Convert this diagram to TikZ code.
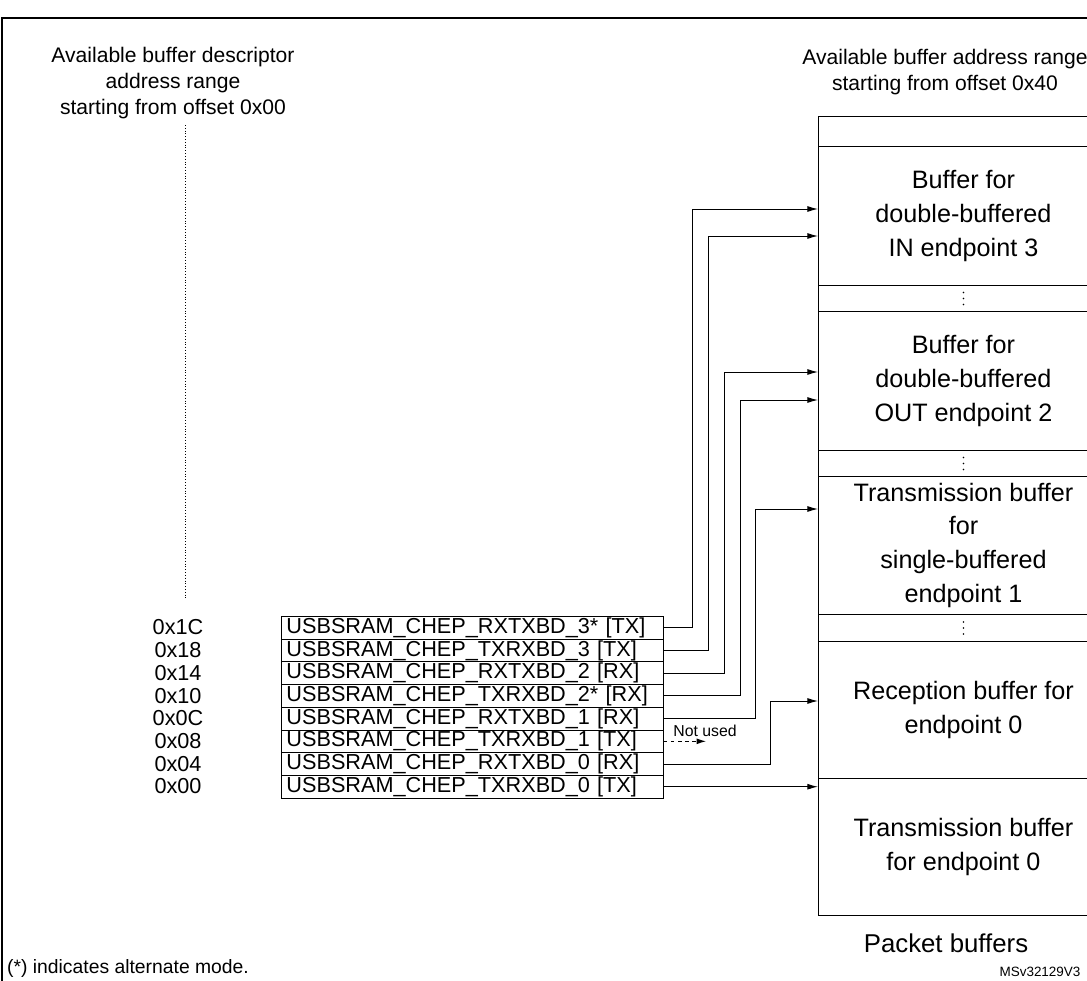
\documentclass[tikz,border=0pt]{standalone}
\usepackage{fontspec}
\setmainfont{Liberation Sans}
\usetikzlibrary{arrows.meta}
\begin{document}
\begin{tikzpicture}[x=0.03cm,y=-0.03cm,
  reg/.style={draw,thick,minimum width=382*0.03cm,minimum height=22.7*0.03cm,inner sep=0pt,font=\fontsize{18.5}{19}\selectfont,anchor=north west,align=left,text width=372*0.03cm},
  buf/.style={draw,thick,minimum width=290*0.03cm,inner sep=0pt,anchor=north west,font=\fontsize{21.5}{29}\selectfont,align=center},
  lbl/.style={font=\fontsize{18}{22}\selectfont,align=center},
  dot/.style={fill,circle,inner sep=0pt,minimum size=1.6pt},
  ptr/.style={thick,-{Latex[length=9pt,width=5pt]}}]
\useasboundingbox (0,0) rectangle (1087,981);
\draw[very thick] (2,981) -- (2,18) -- (1087,18);
\node[lbl] (lt) at (173,83) {Available buffer descriptor\\address range\\starting from offset 0x00};
\node[lbl] (rt) at (945,72) {Available buffer address range\\starting from offset 0x40};
\draw[dotted] (185,125) -- (185,600);
% registers
\foreach \i/\t/\a in {0/USBSRAM\_CHEP\_RXTXBD\_3* [TX]/0x1C,1/USBSRAM\_CHEP\_TXRXBD\_3 [TX]/0x18,2/USBSRAM\_CHEP\_RXTXBD\_2 [RX]/0x14,3/USBSRAM\_CHEP\_TXRXBD\_2* [RX]/0x10,4/USBSRAM\_CHEP\_RXTXBD\_1 [RX]/0x0C,5/USBSRAM\_CHEP\_TXRXBD\_1 [TX]/0x08,6/USBSRAM\_CHEP\_RXTXBD\_0 [RX]/0x04,7/USBSRAM\_CHEP\_TXRXBD\_0 [TX]/0x00}{
  \node[reg] (r\i) at (281,{616+22.7*\i}) {\t};
  \node[font=\fontsize{18.5}{19}\selectfont] (a\i) at (178,{627.5+22.7*\i}) {\a};
}
% buffers
\node[buf,minimum height=30*0.03cm] (b0) at (818,116) {};
\node[buf,minimum height=139*0.03cm] (b1) at (818,146) {Buffer for\\double-buffered\\IN endpoint 3};
\node[buf,minimum height=26*0.03cm] (d1) at (818,285) {};
\node[buf,minimum height=139*0.03cm] (b2) at (818,311) {Buffer for\\double-buffered\\OUT endpoint 2};
\node[buf,minimum height=26*0.03cm] (d2) at (818,450) {};
\node[buf,minimum height=138*0.03cm] (b3) at (818,476) {Transmission buffer\\for\\single-buffered\\endpoint 1};
\node[buf,minimum height=27*0.03cm] (d3) at (818,614) {};
\node[buf,minimum height=137*0.03cm] (b4) at (818,641) {Reception buffer for\\endpoint 0};
\node[buf,minimum height=137*0.03cm] (b5) at (818,778) {Transmission buffer\\for endpoint 0};
\foreach \d in {d1,d2,d3}{
  \foreach \k in {-6,0,6} \fill ([yshift=\k*0.03cm]\d.center) circle (0.8pt);
}
\node[font=\fontsize{22}{24}\selectfont] (pb) at (946,943) {Packet buffers};
% pointers
\draw[ptr] (r0.east) -| (692,209) -- (b1.west |- 0,209);
\draw[ptr] (r1.east) -| (708,236) -- (b1.west |- 0,236);
\draw[ptr] (r2.east) -| (724,372) -- (b2.west |- 0,372);
\draw[ptr] (r3.east) -| (740,400) -- (b2.west |- 0,400);
\draw[ptr] (r4.east) -| (755,509) -- (b3.west |- 0,509);
\draw[ptr] (r6.east) -| (770,701) -- (b4.west |- 0,701);
\draw[ptr] (r7.east) -- (b5.west |- r7.east);
\coordinate (nu) at (706,0);
\draw[thick,dashed,-{Latex[length=8pt,width=5pt]}] (r5.east) -- (nu |- r5.east);
\node[font=\fontsize{13.5}{14}\selectfont] (nut) at (705,731) {Not used};
\node[anchor=west,font=\fontsize{16.5}{18}\selectfont] (note) at (3,968) {(*) indicates alternate mode.};
\node[font=\fontsize{11.5}{12}\selectfont] (ms) at (1040,972) {MSv32129V3};
\end{tikzpicture}
\end{document}
